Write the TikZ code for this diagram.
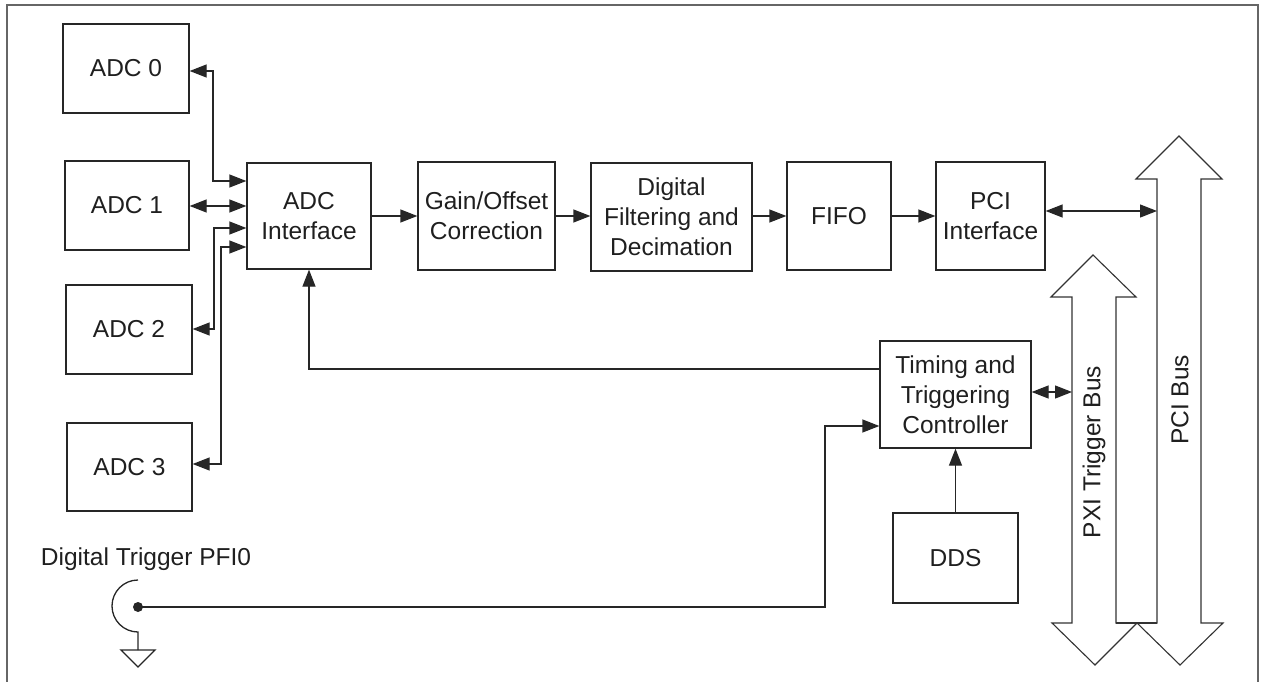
\documentclass[tikz,border=0pt]{standalone}
\usepackage{fontspec}
\setmainfont{Liberation Sans}
\usetikzlibrary{arrows.meta}
\begin{document}
\begin{tikzpicture}[x=1pt,y=-1pt,
  line width=1.3pt,
  every node/.style={font=\fontsize{24.5}{30}\selectfont, text=black!88},
  block/.style={draw=black!85, align=center, inner sep=0pt},
  link/.style={draw=black!85, -{Triangle[length=17pt,width=13pt]}},
  dlink/.style={draw=black!85, {Triangle[length=17pt,width=13pt]}-{Triangle[length=17pt,width=13pt]}},
  bus/.style={draw=black!80, fill=white, line width=1.1pt, line join=miter},
  frame/.style={draw=black!60, line width=2pt}]
\useasboundingbox (0,0) rectangle (1264,682);
% outer frame (open at the bottom)
\draw[frame] (7,690) -- (7,5) -- (1258,5) -- (1258,690);

% converters
\node[block, minimum width=126pt, minimum height=89pt] (adc0) at (126,68.5) {ADC 0};
\node[block, minimum width=124pt, minimum height=89pt] (adc1) at (127,205.5) {ADC 1};
\node[block, minimum width=126pt, minimum height=89pt] (adc2) at (129,329.5) {ADC 2};
\node[block, minimum width=125pt, minimum height=88pt] (adc3) at (129.5,467) {ADC 3};

% processing chain
\node[block, minimum width=124pt, minimum height=106pt] (adci) at (309,216) {ADC\\Interface};
\node[block, minimum width=137pt, minimum height=108pt] (gain) at (486.5,216) {Gain/Offset\\Correction};
\node[block, minimum width=161pt, minimum height=108pt] (filt) at (671.5,217) {Digital\\Filtering and\\Decimation};
\node[block, minimum width=104pt, minimum height=108pt] (fifo) at (839,216) {FIFO};
\node[block, minimum width=109pt, minimum height=108pt] (pcii) at (990.5,216) {PCI\\Interface};
\node[block, minimum width=151pt, minimum height=107pt] (timing) at (955.5,394.5) {Timing and\\Triggering\\Controller};
\node[block, minimum width=125pt, minimum height=90pt] (dds) at (955.5,558) {DDS};

% buses
\draw[bus] (1157,179) -- (1136,179) -- (1179,136) -- (1222,179) -- (1201,179)
  -- (1201,623) -- (1223,623) -- (1180,665) -- (1137,623) -- (1157,623) -- cycle;
\draw[bus] (1072,297) -- (1051,297) -- (1093,255) -- (1136,297) -- (1116,297)
  -- (1116,623) -- (1137,623) -- (1095,665) -- (1052,623) -- (1072,623) -- cycle;
\draw[draw=black!80, line width=1.1pt] (1116,623) -- (1157,623);
\node[rotate=90] (pxilbl) at (1094,452) {PXI Trigger Bus};
\node[rotate=90] (pcilbl) at (1180,400) {PCI Bus};
\coordinate (pcibus) at (1157,211);
\coordinate (pxibus) at (1072,392);

% ADC links
\draw[dlink] (adc0.east |- 0,71) -- (213,71) -- (213,181) -- (adci.west |- 0,181);
\draw[dlink] (adc1.east |- 0,206) -- (adci.west |- 0,206);
\draw[dlink] (adc2.east |- 0,329) -- (214,329) -- (214,228) -- (adci.west |- 0,228);
\draw[dlink] (adc3.east |- 0,464) -- (221,464) -- (221,247) -- (adci.west |- 0,247);

% data path
\draw[link] (adci.east |- 0,216) -- (gain.west |- 0,216);
\draw[link] (gain.east |- 0,216) -- (filt.west |- 0,216);
\draw[link] (filt.east |- 0,216) -- (fifo.west |- 0,216);
\draw[link] (fifo.east |- 0,216) -- (pcii.west |- 0,216);
\draw[dlink] (pcii.east |- 0,211) -- (pcibus);

% timing
\draw[link] (timing.west |- 0,369) -- (309,369) -- (adci.south);
\draw[dlink] (timing.east |- 0,392) -- (pxibus);
\draw[link] (dds.north) -- (timing.south);

% digital trigger input
\node (pfilbl) at (146,559) {Digital Trigger PFI0};
\coordinate (pfi) at (138,607);
\fill[black!85] (pfi) circle (5pt);
\draw[draw=black!85] (138,580) arc[start angle=90, end angle=270, radius=26pt] -- (138,650);
\draw[draw=black!85, line join=miter] (121,650) -- (155,650) -- (138,667) -- cycle;
\draw[link] (pfi) -- (825,607) -- (825,426) -- (timing.west |- 0,426);
\end{tikzpicture}
\end{document}
